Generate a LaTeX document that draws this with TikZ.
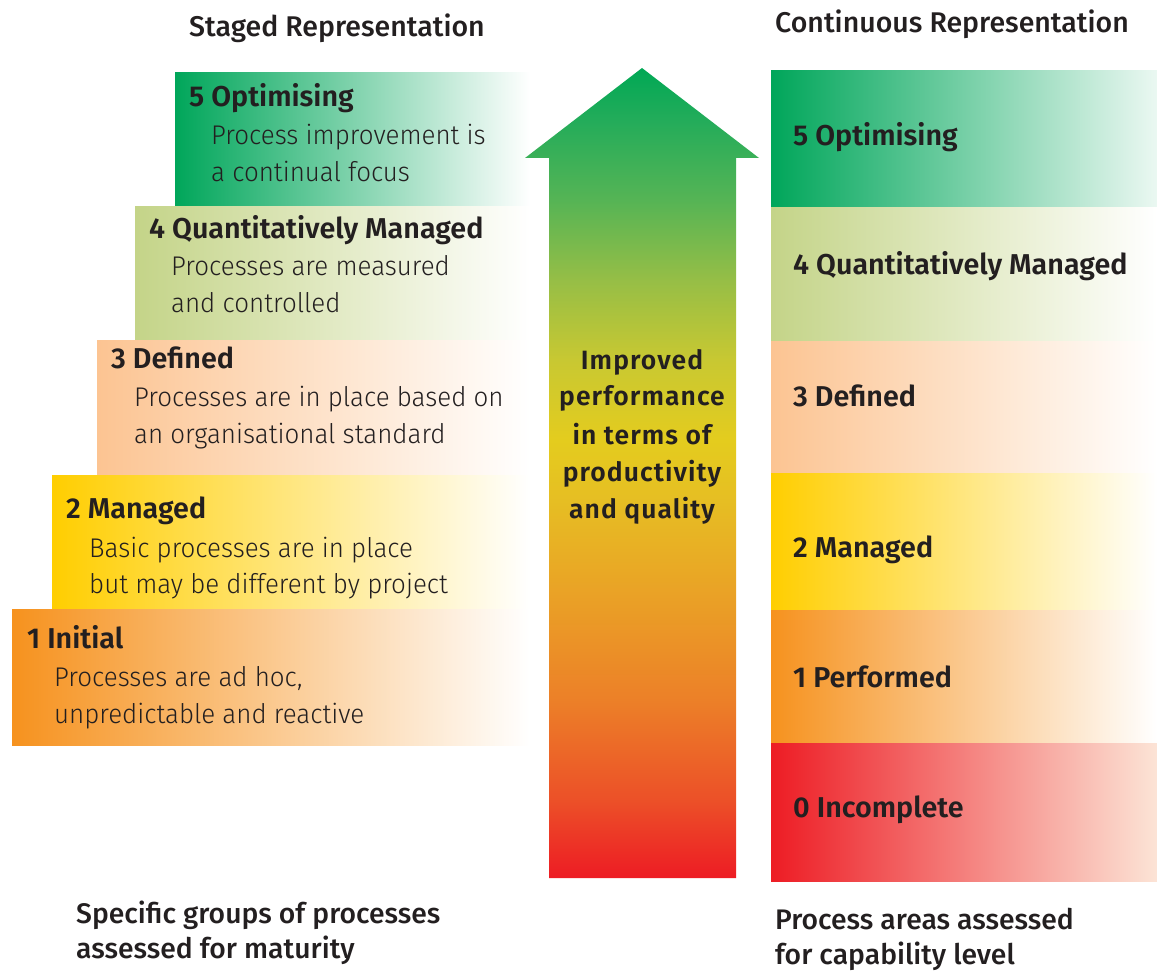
\documentclass[tikz,border=0pt]{standalone}
\usepackage{fontspec}
\setmainfont{Fira Sans}
\IfFontExistsTF{Fira Sans Medium}{\newfontfamily\medfont{Fira Sans Medium}}{\newfontfamily\medfont{Fira Sans}[FakeBold=1.2]}
\IfFontExistsTF{Fira Sans SemiBold}{\newfontfamily\semifont{Fira Sans SemiBold}}{\newfontfamily\semifont{Fira Sans}[FakeBold=1.8]}
\IfFontExistsTF{Fira Sans SemiBold}{\newfontfamily\semifontwide{Fira Sans SemiBold}[LetterSpace=4]}{\newfontfamily\semifontwide{Fira Sans}[FakeBold=1.8,LetterSpace=4]}
\IfFontExistsTF{Fira Sans Light}{\newfontfamily\lightfont{Fira Sans Light}[FakeStretch=0.96]}{\newfontfamily\lightfont{Fira Sans}[FakeStretch=0.95]}
\definecolor{cfive}{RGB}{0,166,90}
\definecolor{cfour}{RGB}{196,212,136}
\definecolor{cthree}{RGB}{252,196,146}
\definecolor{ctwo}{RGB}{255,206,0}
\definecolor{cone}{RGB}{246,146,30}
\definecolor{czero}{RGB}{237,28,36}
\definecolor{czeromid}{RGB}{243,128,108}
\definecolor{czeroend}{RGB}{252,228,214}
\definecolor{txt}{RGB}{35,31,32}
\definecolor{aA}{RGB}{237,28,36}
\definecolor{aB}{RGB}{236,80,40}
\definecolor{aC}{RGB}{236,128,40}
\definecolor{aD}{RGB}{234,160,38}
\definecolor{aE}{RGB}{230,190,35}
\definecolor{aF}{RGB}{228,204,30}
\definecolor{aG}{RGB}{200,200,50}
\definecolor{aH}{RGB}{150,190,70}
\definecolor{aI}{RGB}{85,180,85}
\definecolor{aJ}{RGB}{35,172,90}
\definecolor{aK}{RGB}{0,168,85}
\pgfdeclareverticalshading{arrowshade}{100bp}{color(0bp)=(aA); color(25bp)=(aA); color(29.8bp)=(aB); color(36bp)=(aC); color(42.2bp)=(aD); color(48.3bp)=(aE); color(52bp)=(aF); color(57bp)=(aG); color(61.9bp)=(aH); color(66.9bp)=(aI); color(71.8bp)=(aJ); color(75bp)=(aK); color(100bp)=(aK)}
\tikzset{
  head/.style={anchor=base west, inner sep=0pt, text=txt, font=\semifont\fontsize{28.7}{28.7}\selectfont},
  desc/.style={anchor=base west, inner sep=0pt, text=txt, font=\lightfont\fontsize{27}{27}\selectfont},
  ttl/.style={anchor=base west, inner sep=0pt, text=txt, font=\medfont\fontsize{28.5}{28.5}\selectfont},
  capt/.style={anchor=base west, inner sep=0pt, text=txt, font=\medfont\fontsize{28.3}{28.3}\selectfont},
  arrtxt/.style={anchor=base, inner sep=0pt, text=txt, font=\semifontwide\fontsize{26.5}{26.5}\selectfont}
}
\begin{document}
\begin{tikzpicture}[x=1pt,y=-1pt]
\useasboundingbox (0,0) rectangle (1157,973);
\fill[white] (0,0) rectangle (1157,973);
% staged boxes
\shade[left color=cfive, right color=white] (175,73) rectangle (530,207);
\shade[left color=cfour, right color=white] (135,207) rectangle (530,341);
\shade[left color=cthree, right color=white] (97,341) rectangle (530,475);
\shade[left color=ctwo, right color=white] (52,475) rectangle (530,609);
\shade[left color=cone, right color=white] (12,609) rectangle (530,745);
% continuous boxes
\shade[left color=cfive, right color=cfive!8] (771,71) rectangle (1157,208);
\shade[left color=cfour, right color=white] (771,208) rectangle (1157,342);
\shade[left color=cthree, right color=white] (771,342) rectangle (1157,473);
\shade[left color=ctwo, right color=white] (771,473) rectangle (1157,610);
\shade[left color=cone, right color=white] (771,610) rectangle (1157,743);
\shade[left color=czero, middle color=czeromid, right color=czeroend] (771,743) rectangle (1157,881);
% arrow
\shade[shading=arrowshade] (549,878) -- (549,158) -- (525,158) -- (642,68) -- (759,158) -- (736,158) -- (736,878) -- cycle;
% titles
\node[ttl] (t1) at (189,37) {Staged Representation};
\node[ttl] (t2) at (775,33) {Continuous Representation};
% staged texts
\node[head] (s5h) at (189,107) {5 Optimising};
\node[desc] (s5a) at (211,145) {Process improvement is};
\node[desc] (s5b) at (211,182) {a continual focus};
\node[head] (s4h) at (149,239) {4 Quantitatively Managed};
\node[desc] (s4a) at (171,276) {Processes are measured};
\node[desc] (s4b) at (171,313) {and controlled};
\node[head] (s3h) at (111,369) {3 Defined};
\node[desc] (s3a) at (134,407) {Processes are in place based on};
\node[desc] (s3b) at (134,443) {an organisational standard};
\node[head] (s2h) at (66,518) {2 Managed};
\node[desc] (s2a) at (89,557) {Basic processes are in place};
\node[desc] (s2b) at (89,593) {but may be different by project};
\node[head] (s1h) at (27,648) {1 Initial};
\node[desc] (s1a) at (54,686) {Processes are ad hoc,};
\node[desc] (s1b) at (54,723) {unpredictable and reactive};
% continuous texts
\node[head] (c5) at (793,146) {5 Optimising};
\node[head] (c4) at (793,275) {4 Quantitatively Managed};
\node[head] (c3) at (793,407) {3 Defined};
\node[head] (c2) at (793,557) {2 Managed};
\node[head] (c1) at (793,687) {1 Performed};
\node[head] (c0) at (793,817) {0 Incomplete};
% arrow text
\node[arrtxt] (a1) at (642,370) {Improved};
\node[arrtxt] (a2) at (642,406) {performance};
\node[arrtxt] (a3) at (642,445) {in terms of};
\node[arrtxt] (a4) at (642,482) {productivity};
\node[arrtxt] (a5) at (642,518) {and quality};
% captions
\node[capt] (b1) at (76,923) {Specific groups of processes};
\node[capt] (b2) at (76,958) {assessed for maturity};
\node[capt] (b3) at (775,929) {Process areas assessed};
\node[capt] (b4) at (775,964) {for capability level};
\end{tikzpicture}
\end{document}
